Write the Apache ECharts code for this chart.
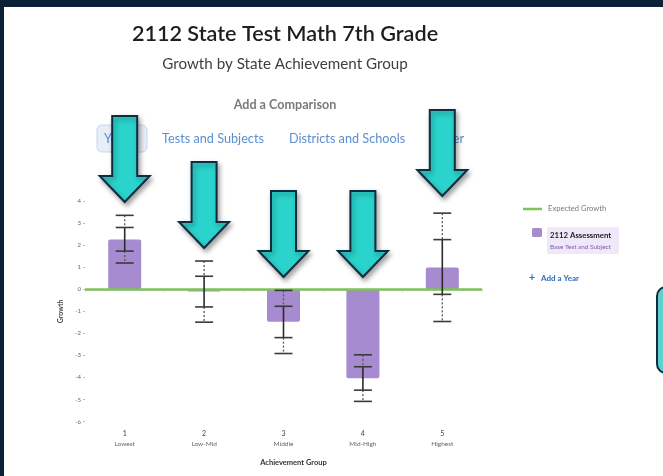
<!DOCTYPE html>
<html>
<head>
<meta charset="utf-8">
<script src="https://cdn.jsdelivr.net/npm/echarts@6/dist/echarts.min.js"></script>
<style>
  html, body { margin: 0; padding: 0; background: #0b2136; }
  #chart { width: 663px; height: 476px; }
</style>
</head>
<body>
<div id="chart"></div>
<script>
// Achievement groups along the x axis
const groupNumbers = ['1', '2', '3', '4', '5'];
const groupNames = ['Lowest', 'Low-Mid', 'Middle', 'Mid-High', 'Highest'];

// Mean growth per group (2112 assessment)
const growth = [2.25, -0.1, -1.47, -4.03, 0.99];

// Confidence bands per group: outer high, inner high, inner low, outer low
const outerHigh = [3.35, 1.28, -0.05, -2.97, 3.45];
const innerHigh = [2.80, 0.59, -0.77, -3.51, 2.25];
const innerLow = [1.73, -0.80, -2.19, -4.57, -0.23];
const outerLow = [1.19, -1.49, -2.91, -5.08, -1.46];

// Expected growth reference
const expectedGrowth = 0;

// Y axis range
const yMin = -6, yMax = 4, yStep = 1;

// Callout arrows: tip heights (px) above each group
const arrowTipY = [202, 248, 277, 277, 196];

const FONT = 'Lato, "Noto Sans", sans-serif';
const PURPLE = '#a68bd0';
const GREEN = '#7cc35a';
const BLUE = '#5b8fd0';

const chart = echarts.init(document.getElementById('chart'), null, { renderer: 'canvas' });

const errorData = groupNumbers.map((g, i) => [i, outerHigh[i], innerHigh[i], innerLow[i], outerLow[i]]);

function renderErrorBar(params, api) {
  const idx = api.value(0);
  const pOH = api.coord([idx, api.value(1)]);
  const pIH = api.coord([idx, api.value(2)]);
  const pIL = api.coord([idx, api.value(3)]);
  const pOL = api.coord([idx, api.value(4)]);
  const x = pOH[0];
  const hw = 9;
  const dark = '#2b2b2b';
  const cap = (p) => ({
    type: 'line',
    shape: { x1: x - hw, y1: p[1], x2: x + hw, y2: p[1] },
    style: { stroke: '#3a3a3a', lineWidth: 1.6 }
  });
  return {
    type: 'group',
    children: [
      { type: 'line', shape: { x1: x, y1: pOH[1], x2: x, y2: pIH[1] },
        style: { stroke: '#555', lineWidth: 1.3, lineDash: [2, 2] } },
      { type: 'line', shape: { x1: x, y1: pIL[1], x2: x, y2: pOL[1] },
        style: { stroke: '#555', lineWidth: 1.3, lineDash: [2, 2] } },
      { type: 'line', shape: { x1: x, y1: pIH[1], x2: x, y2: pIL[1] },
        style: { stroke: dark, lineWidth: 1.6 } },
      cap(pOH), cap(pIH), cap(pIL), cap(pOL)
    ]
  };
}

const option = {
  backgroundColor: 'transparent',
  animation: false,
  grid: { left: 85, right: 181, top: 201, bottom: 54.3, containLabel: false },
  xAxis: {
    type: 'category',
    data: groupNumbers,
    name: 'Achievement Group',
    nameLocation: 'middle',
    nameGap: 37,
    nameTextStyle: { fontFamily: FONT, fontSize: 7.5, fontWeight: 'bold', color: '#333', padding: [0, 0, 0, 20] },
    axisLine: { show: true, lineStyle: { color: '#dcdcdc', width: 1.5 } },
    axisTick: { show: true, alignWithLabel: false, length: 3, lineStyle: { color: '#dcdcdc' } },
    axisLabel: {
      margin: 7,
      interval: 0,
      formatter: (v, i) => '{n|' + v + '}\n{s|' + groupNames[i] + '}',
      rich: {
        n: { fontFamily: FONT, fontSize: 7, color: '#444', lineHeight: 10 },
        s: { fontFamily: FONT, fontSize: 6.5, color: '#666', lineHeight: 10 }
      }
    },
    splitLine: { show: false }
  },
  yAxis: {
    type: 'value',
    min: yMin,
    max: yMax,
    interval: yStep,
    name: 'Growth',
    nameLocation: 'middle',
    nameGap: 21,
    nameRotate: 90,
    nameTextStyle: { fontFamily: FONT, fontSize: 7, fontWeight: 'bold', color: '#444' },
    axisLine: { show: false },
    axisTick: { show: true, length: 2, lineStyle: { color: '#bbb' } },
    axisLabel: { fontFamily: FONT, fontSize: 6, color: '#666', margin: 4 },
    splitLine: { show: false }
  },
  series: [
    {
      name: '2112 Assessment',
      type: 'bar',
      data: growth,
      barWidth: 33,
      itemStyle: { color: PURPLE, borderRadius: 2 },
      z: 2,
      markLine: {
        silent: true,
        symbol: ['none', 'none'],
        label: { show: false },
        lineStyle: { color: GREEN, width: 2.5, type: 'solid' },
        data: [{ yAxis: expectedGrowth }],
        z: 3
      }
    },
    {
      name: 'Range',
      type: 'custom',
      renderItem: renderErrorBar,
      data: errorData,
      encode: { x: 0, y: [1, 2, 3, 4] },
      z: 5
    }
  ]
};

chart.setOption(option);

// Page furniture: panel, headings, comparison tabs, legend
function buildGraphics() {
  const els = [];
  // white panel inside the dark frame
  els.push({ type: 'rect', z: -10, silent: true,
    shape: { x: 4, y: 7, width: 670, height: 480 },
    style: { fill: '#ffffff' } });

  const txt = (text, x, y, size, color, weight, align) => ({
    type: 'text', z: 10, silent: true, x: x, y: y,
    style: { text: text, fontFamily: FONT, fontSize: size, fill: color,
      fontWeight: weight || 'normal', align: align || 'left', verticalAlign: 'middle' }
  });

  els.push(txt('2112 State Test Math 7th Grade', 285, 34, 21.6, '#1e1e1e', 600, 'center'));
  els.push(txt('Growth by State Achievement Group', 285, 64, 15.2, '#3f3f3f', 'normal', 'center'));
  els.push(txt('Add a Comparison', 285, 105, 12.6, '#7a7a7a', 'bold', 'center'));

  // comparison tabs
  els.push({ type: 'rect', z: 8, silent: true,
    shape: { x: 97, y: 125, width: 50, height: 27, r: 5 },
    style: { fill: '#e7eef8', stroke: '#c3d5ec', lineWidth: 1 } });
  els.push(txt('Years', 104, 139, 12.7, BLUE));
  els.push(txt('Tests and Subjects', 162, 139, 12.7, BLUE));
  els.push(txt('Districts and Schools', 289, 139, 12.7, BLUE));
  els.push(txt('Other', 431, 139, 12.7, BLUE));

  // legend
  els.push({ type: 'line', z: 10, silent: true,
    shape: { x1: 523, y1: 209, x2: 542, y2: 209 },
    style: { stroke: GREEN, lineWidth: 2.5 } });
  els.push(txt('Expected Growth', 548, 209, 7.6, '#7a7a7a'));
  els.push({ type: 'rect', z: 10, silent: true,
    shape: { x: 532, y: 228, width: 10, height: 9, r: 1.5 },
    style: { fill: PURPLE } });
  els.push({ type: 'rect', z: 9, silent: true,
    shape: { x: 547, y: 227, width: 72, height: 27, r: 2 },
    style: { fill: '#efe8f9' } });
  els.push(txt('2112 Assessment', 550, 235, 7.8, '#222', 'bold'));
  els.push(txt('Base Test and Subject', 550, 247, 6.4, '#7a5aa8'));
  els.push(txt('+', 529, 278, 10.5, '#2f6db5', 'bold'));
  els.push(txt('Add a Year', 541, 278, 8, '#2f6db5', 'bold'));

  // teal note box at the right edge
  els.push({ type: 'rect', z: 20, silent: true,
    shape: { x: 657, y: 287, width: 30, height: 86, r: 9 },
    style: { fill: '#5fd0cc', stroke: '#0f2c40', lineWidth: 2 } });

  // callout arrows pointing down at each group
  const shaftW = 25, headW = 50, headH = 26, len = 86;
  groupNumbers.forEach((g, i) => {
    const cx = chart.convertToPixel({ xAxisIndex: 0 }, g);
    const tip = arrowTipY[i];
    const top = tip - len;
    const neck = tip - headH;
    els.push({ type: 'polygon', z: 30, silent: true,
      shape: { points: [
        [cx - shaftW / 2, top], [cx + shaftW / 2, top], [cx + shaftW / 2, neck],
        [cx + headW / 2, neck], [cx, tip], [cx - headW / 2, neck], [cx - shaftW / 2, neck]
      ] },
      style: { fill: '#2ad4cc', stroke: '#0f2c40', lineWidth: 2, lineJoin: 'miter',
        shadowBlur: 5, shadowOffsetX: 2, shadowOffsetY: 3, shadowColor: 'rgba(0,0,0,0.35)' } });
  });
  return els;
}

chart.setOption({ graphic: { elements: buildGraphics() } });
</script>
</body>
</html>
